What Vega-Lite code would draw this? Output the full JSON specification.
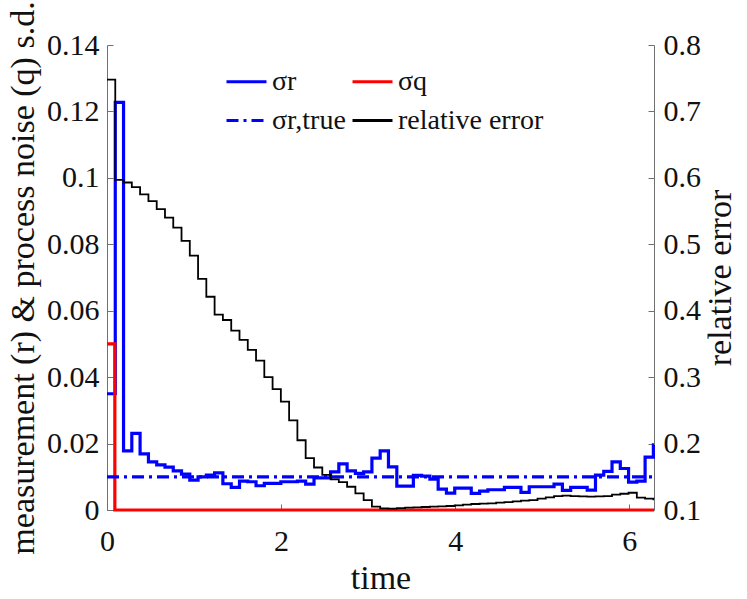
{
  "$schema": "https://vega.github.io/schema/vega-lite/v6.json",
  "width": 547,
  "height": 465,
  "autosize": "none",
  "padding": {"left": 107, "top": 45, "right": 93, "bottom": 89},
  "background": "white",
  "datasets": {
    "sd": [
      {"t": 0, "series": "r", "v": 0.035}, {"t": 0.095, "series": "r", "v": 0.1227}, {"t": 0.19, "series": "r", "v": 0.0178},
      {"t": 0.285, "series": "r", "v": 0.0231}, {"t": 0.38, "series": "r", "v": 0.0169}, {"t": 0.476, "series": "r", "v": 0.0145},
      {"t": 0.571, "series": "r", "v": 0.0136}, {"t": 0.666, "series": "r", "v": 0.0129}, {"t": 0.761, "series": "r", "v": 0.0118},
      {"t": 0.856, "series": "r", "v": 0.0108}, {"t": 0.951, "series": "r", "v": 0.009}, {"t": 1.046, "series": "r", "v": 0.01},
      {"t": 1.141, "series": "r", "v": 0.0105}, {"t": 1.236, "series": "r", "v": 0.0112}, {"t": 1.331, "series": "r", "v": 0.0079},
      {"t": 1.427, "series": "r", "v": 0.0068}, {"t": 1.522, "series": "r", "v": 0.0087}, {"t": 1.617, "series": "r", "v": 0.0085},
      {"t": 1.712, "series": "r", "v": 0.0073}, {"t": 1.807, "series": "r", "v": 0.008}, {"t": 1.902, "series": "r", "v": 0.008},
      {"t": 1.997, "series": "r", "v": 0.0085}, {"t": 2.092, "series": "r", "v": 0.0085}, {"t": 2.187, "series": "r", "v": 0.0087},
      {"t": 2.282, "series": "r", "v": 0.0078}, {"t": 2.378, "series": "r", "v": 0.0097}, {"t": 2.473, "series": "r", "v": 0.0097},
      {"t": 2.568, "series": "r", "v": 0.0115}, {"t": 2.663, "series": "r", "v": 0.0139}, {"t": 2.758, "series": "r", "v": 0.0118},
      {"t": 2.853, "series": "r", "v": 0.011}, {"t": 2.948, "series": "r", "v": 0.0115}, {"t": 3.043, "series": "r", "v": 0.0156},
      {"t": 3.138, "series": "r", "v": 0.0178}, {"t": 3.233, "series": "r", "v": 0.013}, {"t": 3.329, "series": "r", "v": 0.0072},
      {"t": 3.424, "series": "r", "v": 0.0072}, {"t": 3.519, "series": "r", "v": 0.0104}, {"t": 3.614, "series": "r", "v": 0.0102},
      {"t": 3.709, "series": "r", "v": 0.0093}, {"t": 3.804, "series": "r", "v": 0.0063}, {"t": 3.899, "series": "r", "v": 0.0051},
      {"t": 3.994, "series": "r", "v": 0.0066}, {"t": 4.089, "series": "r", "v": 0.0066}, {"t": 4.184, "series": "r", "v": 0.005},
      {"t": 4.28, "series": "r", "v": 0.0057}, {"t": 4.375, "series": "r", "v": 0.0061}, {"t": 4.47, "series": "r", "v": 0.0061},
      {"t": 4.565, "series": "r", "v": 0.0068}, {"t": 4.66, "series": "r", "v": 0.0068}, {"t": 4.755, "series": "r", "v": 0.0053},
      {"t": 4.85, "series": "r", "v": 0.007}, {"t": 4.945, "series": "r", "v": 0.007}, {"t": 5.04, "series": "r", "v": 0.007},
      {"t": 5.135, "series": "r", "v": 0.0078}, {"t": 5.231, "series": "r", "v": 0.0059}, {"t": 5.326, "series": "r", "v": 0.0068},
      {"t": 5.421, "series": "r", "v": 0.0068}, {"t": 5.516, "series": "r", "v": 0.006}, {"t": 5.611, "series": "r", "v": 0.0105},
      {"t": 5.706, "series": "r", "v": 0.0116}, {"t": 5.801, "series": "r", "v": 0.0145}, {"t": 5.896, "series": "r", "v": 0.0125},
      {"t": 5.991, "series": "r", "v": 0.0084}, {"t": 6.086, "series": "r", "v": 0.0087}, {"t": 6.181, "series": "r", "v": 0.0159},
      {"t": 6.276, "series": "r", "v": 0.0196}, {"t": 6.283, "series": "r", "v": 0.0196},
      {"t": 0, "series": "q", "v": 0.05}, {"t": 0.09, "series": "q", "v": 0}, {"t": 6.283, "series": "q", "v": 0},
      {"t": 0, "series": "rtrue", "v": 0.01}, {"t": 6.283, "series": "rtrue", "v": 0.01}
    ],
    "err": [
      {"t": 0, "series": "err", "v": 0.748}, {"t": 0.095, "series": "err", "v": 0.597}, {"t": 0.19, "series": "err", "v": 0.593},
      {"t": 0.285, "series": "err", "v": 0.586}, {"t": 0.38, "series": "err", "v": 0.575}, {"t": 0.476, "series": "err", "v": 0.565},
      {"t": 0.571, "series": "err", "v": 0.553}, {"t": 0.666, "series": "err", "v": 0.54}, {"t": 0.761, "series": "err", "v": 0.525},
      {"t": 0.856, "series": "err", "v": 0.505}, {"t": 0.951, "series": "err", "v": 0.483}, {"t": 1.046, "series": "err", "v": 0.448},
      {"t": 1.141, "series": "err", "v": 0.421}, {"t": 1.236, "series": "err", "v": 0.394}, {"t": 1.331, "series": "err", "v": 0.386},
      {"t": 1.427, "series": "err", "v": 0.37}, {"t": 1.522, "series": "err", "v": 0.356}, {"t": 1.617, "series": "err", "v": 0.341},
      {"t": 1.712, "series": "err", "v": 0.325}, {"t": 1.807, "series": "err", "v": 0.3}, {"t": 1.902, "series": "err", "v": 0.282},
      {"t": 1.997, "series": "err", "v": 0.263}, {"t": 2.092, "series": "err", "v": 0.235}, {"t": 2.187, "series": "err", "v": 0.205},
      {"t": 2.282, "series": "err", "v": 0.178}, {"t": 2.378, "series": "err", "v": 0.164}, {"t": 2.473, "series": "err", "v": 0.153},
      {"t": 2.568, "series": "err", "v": 0.146}, {"t": 2.663, "series": "err", "v": 0.142}, {"t": 2.758, "series": "err", "v": 0.135},
      {"t": 2.853, "series": "err", "v": 0.125}, {"t": 2.948, "series": "err", "v": 0.115}, {"t": 3.043, "series": "err", "v": 0.105},
      {"t": 3.138, "series": "err", "v": 0.1025}, {"t": 3.233, "series": "err", "v": 0.1022}, {"t": 3.329, "series": "err", "v": 0.1028},
      {"t": 3.424, "series": "err", "v": 0.1035}, {"t": 3.519, "series": "err", "v": 0.104}, {"t": 3.614, "series": "err", "v": 0.1045},
      {"t": 3.709, "series": "err", "v": 0.105}, {"t": 3.804, "series": "err", "v": 0.1055}, {"t": 3.899, "series": "err", "v": 0.106},
      {"t": 3.994, "series": "err", "v": 0.107}, {"t": 4.089, "series": "err", "v": 0.108}, {"t": 4.184, "series": "err", "v": 0.109},
      {"t": 4.28, "series": "err", "v": 0.1095}, {"t": 4.375, "series": "err", "v": 0.11}, {"t": 4.47, "series": "err", "v": 0.111},
      {"t": 4.565, "series": "err", "v": 0.112}, {"t": 4.66, "series": "err", "v": 0.113}, {"t": 4.755, "series": "err", "v": 0.114},
      {"t": 4.85, "series": "err", "v": 0.115}, {"t": 4.945, "series": "err", "v": 0.117}, {"t": 5.04, "series": "err", "v": 0.119},
      {"t": 5.135, "series": "err", "v": 0.121}, {"t": 5.231, "series": "err", "v": 0.1215}, {"t": 5.326, "series": "err", "v": 0.121},
      {"t": 5.421, "series": "err", "v": 0.1205}, {"t": 5.516, "series": "err", "v": 0.12}, {"t": 5.611, "series": "err", "v": 0.1205},
      {"t": 5.706, "series": "err", "v": 0.121}, {"t": 5.801, "series": "err", "v": 0.123}, {"t": 5.896, "series": "err", "v": 0.1245},
      {"t": 5.991, "series": "err", "v": 0.126}, {"t": 6.086, "series": "err", "v": 0.1185}, {"t": 6.181, "series": "err", "v": 0.117},
      {"t": 6.276, "series": "err", "v": 0.116}, {"t": 6.283, "series": "err", "v": 0.116}
    ]
  },
  "layer": [
    {
      "data": {"name": "sd"},
      "mark": {"type": "line", "interpolate": "step-after", "strokeWidth": 3.2},
      "encoding": {
        "x": {
          "field": "t", "type": "quantitative",
          "scale": {"domain": [0, 6.2832], "nice": false, "zero": false},
          "axis": {"title": "time", "values": [0, 2, 4, 6], "format": "~g", "labelFlush": false, "labelPadding": 22, "titlePadding": 5}
        },
        "y": {
          "field": "v", "type": "quantitative",
          "scale": {"domain": [0, 0.14], "nice": false},
          "axis": {
            "title": "measurement (r) & process noise (q) s.d.",
            "values": [0, 0.02, 0.04, 0.06, 0.08, 0.1, 0.12, 0.14],
            "format": "~g", "labelPadding": 14, "titlePadding": 6
          }
        },
        "color": {
          "field": "series", "type": "nominal",
          "scale": {"domain": ["r", "q", "rtrue", "err"], "range": ["#0000ff", "#ff0000", "#0000ff", "#000000"]},
          "legend": {
            "title": null,
            "labelExpr": "datum.value == 'r' ? 'σr' : datum.value == 'q' ? 'σq' : datum.value == 'rtrue' ? 'σr,true' : 'relative error'"
          }
        },
        "strokeDash": {
          "field": "series", "type": "nominal",
          "scale": {"domain": ["r", "q", "rtrue", "err"], "range": [[1, 0], [1, 0], [12, 5, 3, 5], [1, 0]]},
          "legend": {
            "title": null,
            "labelExpr": "datum.value == 'r' ? 'σr' : datum.value == 'q' ? 'σq' : datum.value == 'rtrue' ? 'σr,true' : 'relative error'"
          }
        },
        "order": {"field": "t"}
      }
    },
    {
      "data": {"name": "err"},
      "mark": {"type": "line", "interpolate": "step-after", "strokeWidth": 1.8},
      "encoding": {
        "x": {"field": "t", "type": "quantitative"},
        "y": {
          "field": "v", "type": "quantitative",
          "scale": {"domain": [0.1, 0.8], "nice": false, "zero": false},
          "axis": {
            "orient": "right", "title": "relative error",
            "values": [0.1, 0.2, 0.3, 0.4, 0.5, 0.6, 0.7, 0.8],
            "format": "~g", "labelPadding": 15, "titlePadding": 3,
            "titleAngle": 270, "titleBaseline": "top"
          }
        },
        "color": {
          "field": "series", "type": "nominal",
          "legend": {
            "title": null,
            "labelExpr": "datum.value == 'r' ? 'σr' : datum.value == 'q' ? 'σq' : datum.value == 'rtrue' ? 'σr,true' : 'relative error'"
          }
        },
        "strokeDash": {
          "field": "series", "type": "nominal",
          "legend": {
            "title": null,
            "labelExpr": "datum.value == 'r' ? 'σr' : datum.value == 'q' ? 'σq' : datum.value == 'rtrue' ? 'σr,true' : 'relative error'"
          }
        },
        "order": {"field": "t"}
      }
    }
  ],
  "resolve": {"scale": {"y": "independent"}},
  "config": {
    "view": {"stroke": null},
    "font": "Liberation Serif",
    "axis": {
      "grid": false,
      "domainColor": "#707070",
      "tickColor": "#707070",
      "domainWidth": 1,
      "tickWidth": 1,
      "tickSize": -6,
      "labelColor": "#111111",
      "titleColor": "#111111",
      "labelFont": "Liberation Serif",
      "titleFont": "Liberation Serif",
      "labelFontSize": 30,
      "titleFontSize": 34,
      "titleFontWeight": "normal"
    },
    "legend": {
      "orient": "none",
      "legendX": 118,
      "legendY": 15,
      "direction": "horizontal",
      "columns": 2,
      "padding": 0,
      "symbolType": "stroke",
      "symbolSize": 1600,
      "symbolStrokeWidth": 3,
      "labelFont": "Liberation Serif",
      "labelFontSize": 28,
      "labelColor": "#111111",
      "labelLimit": 300,
      "labelOffset": 4,
      "columnPadding": 0,
      "rowPadding": 3
    }
  }
}
